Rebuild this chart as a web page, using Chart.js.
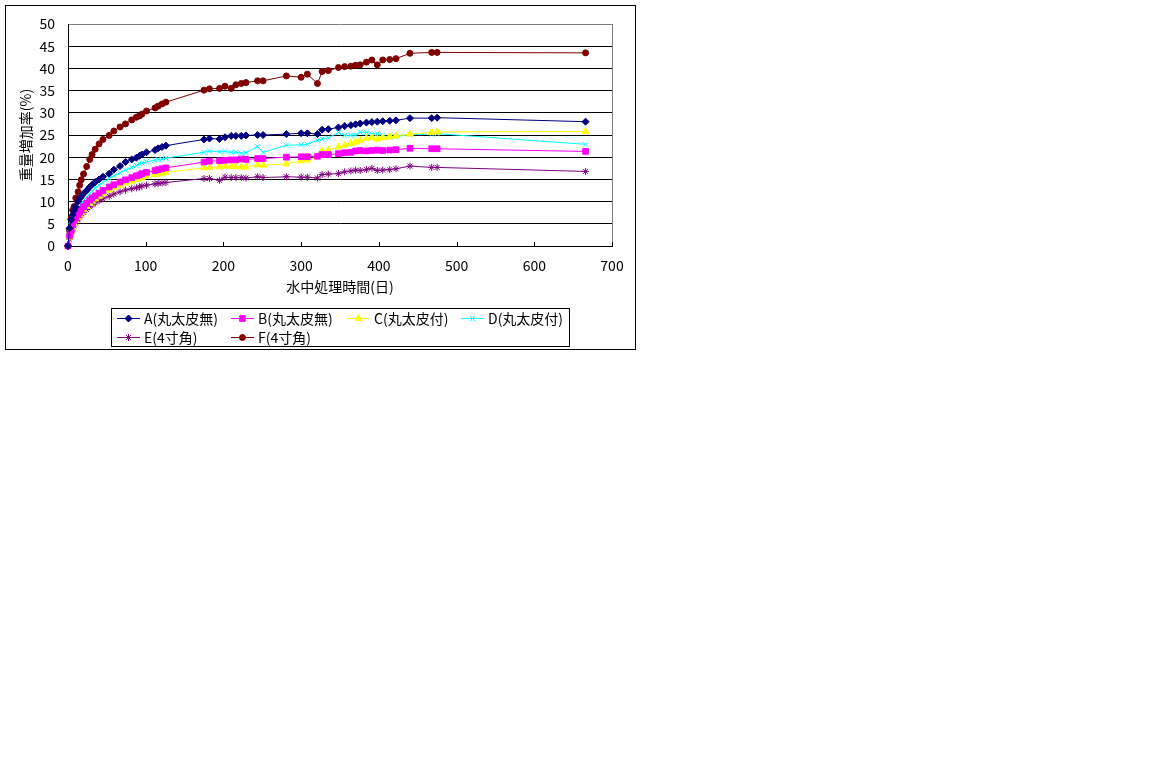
<!DOCTYPE html>
<html>
<head>
<meta charset="utf-8">
<script src="https://cdn.jsdelivr.net/npm/chart.js@4/dist/chart.umd.min.js"></script>
<style>
  body { margin: 0; background: #fff; }
  #myChart { position: absolute; left: 0; top: 0; }
</style>
</head>
<body>
<canvas id="myChart" width="640" height="355"></canvas>
<script>
// measurement days (x values shared by all series)
var days = [0, 2, 4, 6, 8, 10, 13, 15, 17, 20, 24, 28, 31, 35, 40, 45, 53, 59, 67, 74,
  82, 88, 92, 95, 101, 112, 116, 121, 126, 175, 182, 195, 202, 210, 216, 223, 229, 244, 251, 281,
  300, 308, 321, 327, 335, 348, 356, 364, 370, 376, 384, 391, 398, 405, 414, 422, 440, 468, 475, 666];

// weight increase (%) per specimen
var seriesA = [0, 4.0, 5.9, 7.0, 8.0, 8.8, 10.0, 10.7, 11.1, 11.8, 12.5, 13.3, 13.8, 14.4, 15.0, 15.6, 16.3, 17.2, 18.0, 18.9,
  19.5, 19.9, 20.3, 20.6, 21.1, 21.6, 22.0, 22.3, 22.6, 24.0, 24.2, 24.1, 24.5, 24.8, 24.8, 24.8, 24.9, 25.0, 25.0, 25.2,
  25.4, 25.4, 25.2, 26.2, 26.3, 26.7, 27.0, 27.2, 27.4, 27.6, 27.8, 27.9, 28.0, 28.1, 28.2, 28.3, 28.8, 28.8, 28.9, 28.0];
var seriesB = [0, 2.3, 3.5, 4.8, 5.8, 6.3, 7.0, 7.6, 8.2, 8.9, 9.6, 10.3, 10.8, 11.3, 11.9, 12.5, 13.3, 13.8, 14.4, 14.9,
  15.4, 15.8, 16.0, 16.3, 16.6, 17.0, 17.2, 17.4, 17.6, 18.9, 19.1, 19.2, 19.3, 19.4, 19.4, 19.6, 19.5, 19.7, 19.7, 20.0,
  20.1, 20.1, 20.2, 20.6, 20.6, 20.8, 21.0, 21.1, 21.4, 21.5, 21.4, 21.5, 21.6, 21.5, 21.6, 21.7, 22.0, 21.9, 21.9, 21.3];
var seriesC = [0, 2.0, 3.2, 4.2, 5.0, 5.7, 6.4, 7.0, 7.5, 8.2, 8.9, 9.6, 10.1, 10.6, 11.2, 11.8, 12.6, 13.1, 13.7, 14.2,
  14.6, 15.0, 15.2, 15.4, 15.7, 16.1, 16.2, 16.4, 16.6, 17.6, 17.7, 17.8, 18.0, 17.9, 17.9, 17.8, 17.8, 18.3, 18.2, 18.5,
  19.2, 19.4, 20.1, 21.4, 21.6, 22.3, 22.7, 23.1, 23.4, 23.8, 24.2, 24.4, 24.1, 24.4, 24.6, 24.8, 25.2, 25.6, 25.7, 25.8];
var seriesD = [0, 3.0, 4.5, 5.6, 6.5, 7.3, 8.2, 8.8, 9.4, 10.2, 11.0, 11.8, 12.4, 13.0, 13.7, 14.3, 15.2, 15.8, 16.5, 17.1,
  17.7, 18.1, 18.5, 18.7, 19.0, 19.3, 19.5, 19.6, 19.8, 21.1, 21.4, 21.2, 21.3, 21.1, 21.1, 20.9, 21.0, 22.4, 21.1, 22.7,
  22.8, 22.9, 23.8, 24.1, 24.3, 25.6, 24.9, 24.9, 25.0, 25.6, 25.6, 25.2, 25.3, 24.9, 24.5, 24.6, 25.1, 25.2, 25.3, 22.9];
var seriesE = [0, 1.5, 2.7, 3.6, 4.5, 5.2, 5.9, 6.5, 7.0, 7.6, 8.2, 8.8, 9.3, 9.7, 10.2, 10.6, 11.2, 11.7, 12.2, 12.6,
  12.9, 13.1, 13.3, 13.5, 13.7, 14.0, 14.1, 14.2, 14.3, 15.2, 15.2, 14.8, 15.5, 15.4, 15.4, 15.4, 15.3, 15.6, 15.4, 15.6,
  15.5, 15.5, 15.3, 16.1, 16.2, 16.3, 16.7, 16.9, 17.1, 17.0, 17.2, 17.5, 17.0, 17.1, 17.2, 17.4, 18.0, 17.7, 17.7, 16.8];
var seriesF = [0, 3.5, 6.2, 8.1, 8.9, 10.8, 12.2, 13.7, 14.9, 16.2, 17.9, 19.5, 20.6, 21.8, 23.0, 24.0, 24.9, 25.9, 26.8, 27.5,
  28.4, 29.0, 29.3, 29.7, 30.4, 31.1, 31.5, 32.0, 32.4, 35.1, 35.4, 35.5, 36.0, 35.5, 36.3, 36.6, 36.8, 37.2, 37.2, 38.3,
  38.0, 38.7, 36.6, 39.3, 39.5, 40.2, 40.4, 40.5, 40.7, 40.8, 41.4, 41.9, 40.8, 41.9, 42.0, 42.2, 43.4, 43.6, 43.6, 43.5];

var seriesNames = ["A(丸太皮無)", "B(丸太皮無)", "C(丸太皮付)", "D(丸太皮付)", "E(4寸角)", "F(4寸角)"];
var xTitle = "水中処理時間(日)";
var yTitle = "重量増加率(%)";

// turn a value list into {x, y} points
function toPoints(values) {
  return days.map(function (d, i) { return { x: d, y: values[i] }; });
}

function makeSet(i, values, color, style, radius) {
  return {
    label: seriesNames[i],
    data: toPoints(values),
    borderColor: color,
    backgroundColor: color,
    pointBackgroundColor: color,
    pointBorderColor: color,
    pointStyle: style,
    pointRadius: radius,
    pointBorderWidth: 1,
    borderWidth: 1,
    tension: 0,
    clip: false
  };
}

var chartData = {
  datasets: [
    makeSet(0, seriesA, "#000080", "rectRot", 3.5),
    makeSet(1, seriesB, "#ff00ff", "rect", 4),
    makeSet(2, seriesC, "#ffff00", "triangle", 4),
    makeSet(3, seriesD, "#00ffff", "crossRot", 3.5),
    makeSet(4, seriesE, "#800080", "star", 3.5),
    makeSet(5, seriesF, "#800000", "circle", 3)
  ]
};

var FONT = "'Noto Sans CJK JP', sans-serif";

// outer frame, inside x ticks, right border and the boxed legend
var framePlugin = {
  id: "frame",
  beforeDraw: function (chart) {
    var c = chart.ctx;
    c.save();
    c.fillStyle = "#fff";
    c.fillRect(0, 0, chart.width, chart.height);
    c.strokeStyle = "#000";
    c.lineWidth = 1;
    c.strokeRect(5.5, 5.5, 630, 344);
    c.restore();
  },
  beforeDatasetsDraw: function (chart) {
    var c = chart.ctx, a = chart.chartArea, xs = chart.scales.x;
    c.save();
    c.strokeStyle = "#808080";
    c.beginPath();
    c.moveTo(Math.round(a.right) + 0.5, a.top);
    c.lineTo(Math.round(a.right) + 0.5, a.bottom);
    c.stroke();
    c.strokeStyle = "#000";
    xs.ticks.forEach(function (t) {
      var px = Math.round(xs.getPixelForValue(t.value)) + 0.5;
      c.beginPath();
      c.moveTo(px, a.bottom);
      c.lineTo(px, a.bottom - 4);
      c.stroke();
    });
    c.restore();
  },
  afterDraw: function (chart) {
    var c = chart.ctx;
    c.save();
    c.strokeStyle = "#000";
    c.lineWidth = 1;
    c.strokeRect(111.5, 308.5, 458, 38);
    var cols = [117, 231, 347, 461, 117, 231];
    var rows = [318, 318, 318, 318, 337, 337];
    c.font = "14px " + FONT;
    c.textBaseline = "middle";
    chart.data.datasets.forEach(function (ds, i) {
      var x0 = cols[i], y0 = rows[i];
      c.strokeStyle = ds.borderColor;
      c.beginPath();
      c.moveTo(x0, y0 + 0.5);
      c.lineTo(x0 + 23, y0 + 0.5);
      c.stroke();
      c.fillStyle = ds.pointBackgroundColor;
      Chart.helpers.drawPoint(c, { pointStyle: ds.pointStyle, radius: ds.pointRadius, rotation: 0, borderWidth: 1 }, x0 + 11.5, y0 + 0.5);
      c.fillStyle = "#000";
      c.fillText(ds.label, x0 + 27, y0 + 1);
    });
    c.restore();
  }
};

Chart.defaults.font.family = FONT;
Chart.defaults.font.size = 14;
Chart.defaults.color = "#000";

var ctx = document.getElementById("myChart").getContext("2d");
var myChart = new Chart(ctx, {
  type: "line",
  data: chartData,
  options: {
    responsive: false,
    animation: false,
    layout: { padding: { left: 0, right: 28, top: 24, bottom: 55 } },
    plugins: { legend: { display: false }, tooltip: { enabled: false } },
    scales: {
      x: {
        type: "linear",
        min: 0,
        max: 700,
        ticks: { stepSize: 100, padding: 11 },
        grid: { drawOnChartArea: false, drawTicks: false },
        border: { color: "#000" },
        title: { display: true, text: xTitle, padding: { top: 0, bottom: 5 } },
        afterFit: function (scale) { scale.height = 54; }
      },
      y: {
        min: 0,
        max: 50,
        ticks: { stepSize: 5, padding: 13 },
        grid: {
          drawTicks: false,
          color: function (c) { return c.tick && c.tick.value === 50 ? "#808080" : "#000"; }
        },
        border: { color: "#000" },
        title: { display: true, text: yTitle, padding: { top: 17, bottom: 0 } },
        afterFit: function (scale) { scale.width = 68; }
      }
    }
  },
  plugins: [framePlugin]
});
</script>
</body>
</html>
